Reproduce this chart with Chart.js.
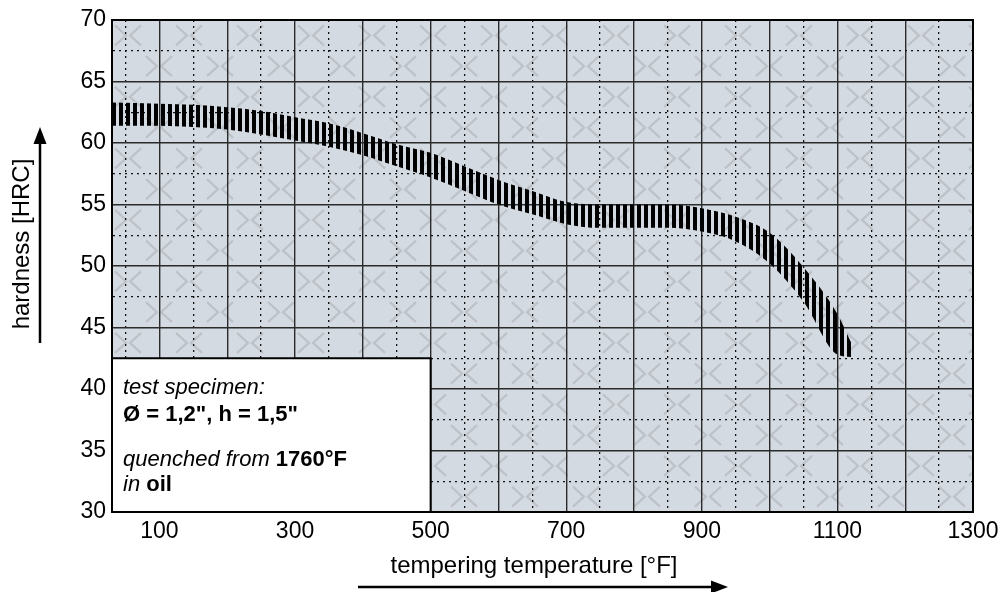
<!DOCTYPE html>
<html>
<head>
<meta charset="utf-8">
<script src="https://cdn.jsdelivr.net/npm/chart.js@4"></script>
<style>
  html, body { margin: 0; padding: 0; background: #fff; }
</style>
</head>
<body>
<canvas id="hardnessChart" width="1006" height="592"></canvas>
<script>
// tempering temperature [°F] and the upper / lower edge of the hardness band [HRC]
const temps    = [30,   100,  150,  200,  250,  300,  350,  400,  450,  500,  550,  600,  650,  700,  750,  800,  850,  900,  950,  1000, 1050, 1100, 1120];
const upperHRC = [63.3, 63.2, 63.1, 62.9, 62.6, 62.1, 61.6, 60.8, 59.9, 59.2, 58.1, 57.0, 56.1, 55.2, 55.0, 55.0, 55.0, 54.7, 54.0, 52.7, 49.9, 46.1, 43.8];
const lowerHRC = [61.4, 61.4, 61.3, 61.1, 60.7, 60.2, 59.7, 59.0, 58.1, 57.2, 56.1, 55.0, 54.2, 53.4, 53.1, 53.1, 53.1, 52.8, 52.0, 50.2, 47.1, 42.8, 42.6];

const xTickLabels = [100, 300, 500, 700, 900, 1100, 1300];
const yTickLabels = [30, 35, 40, 45, 50, 55, 60, 65, 70];

const FONT = '"Liberation Sans", Arial, Helvetica, sans-serif';

function stripePattern() {
    const c = document.createElement('canvas');
    c.width = 7; c.height = 8;
    const g = c.getContext('2d');
    g.fillStyle = '#000';
    g.fillRect(0, 0, 4, 8);
    return g.createPattern(c, 'repeat');
}

function arrow(ctx, x1, y1, x2, y2) {
    const a = Math.atan2(y2 - y1, x2 - x1);
    const len = 17, half = 6.5;
    ctx.beginPath();
    ctx.moveTo(x1, y1);
    ctx.lineTo(x2 - Math.cos(a) * len, y2 - Math.sin(a) * len);
    ctx.lineWidth = 2.5;
    ctx.strokeStyle = '#000';
    ctx.stroke();
    ctx.beginPath();
    ctx.moveTo(x2, y2);
    ctx.lineTo(x2 - Math.cos(a) * len - Math.sin(a) * half, y2 - Math.sin(a) * len + Math.cos(a) * half);
    ctx.lineTo(x2 - Math.cos(a) * len + Math.sin(a) * half, y2 - Math.sin(a) * len - Math.cos(a) * half);
    ctx.closePath();
    ctx.fillStyle = '#000';
    ctx.fill();
}

function drawRuns(ctx, runs, x, y) {
    runs.forEach(([text, style]) => {
        ctx.font = style + ' 22px ' + FONT;
        ctx.fillText(text, x, y);
        x += ctx.measureText(text).width;
    });
}

const isMajorX = ctx => !ctx.tick || ctx.tick.value % 100 === 0;
const isMajorY = ctx => !ctx.tick || ctx.tick.value % 5 === 0;

const plotBackground = {
    id: 'plotBackground',
    beforeDraw(chart) {
        const { ctx, chartArea: a } = chart;
        ctx.save();
        ctx.fillStyle = '#d4dae1';
        ctx.fillRect(a.left, a.top, a.right - a.left, a.bottom - a.top);
        ctx.beginPath();
        ctx.rect(a.left, a.top, a.right - a.left, a.bottom - a.top);
        ctx.clip();
        // faint "><" watermark pattern
        ctx.strokeStyle = '#bdc2c8';
        ctx.lineWidth = 2.2;
        const rowH = (a.bottom - a.top) / 16;
        for (let r = 0; r < 16; r++) {
            const cy = a.top + rowH * (r + 0.5);
            for (let cx = a.left + (r % 2 ? -14 : 16); cx < a.right + 20; cx += 61) {
                ctx.beginPath();
                ctx.moveTo(cx - 13, cy - 10); ctx.lineTo(cx - 2, cy); ctx.lineTo(cx - 13, cy + 10);
                ctx.moveTo(cx + 13, cy - 10); ctx.lineTo(cx + 2, cy); ctx.lineTo(cx + 13, cy + 10);
                ctx.stroke();
            }
        }
        ctx.restore();
    },
    afterDraw(chart) {
        const { ctx, chartArea: a, scales } = chart;
        ctx.save();
        // frame
        ctx.strokeStyle = '#000';
        ctx.lineWidth = 2;
        ctx.strokeRect(a.left, a.top, a.right - a.left, a.bottom - a.top);

        // info box
        const bx1 = scales.x.getPixelForValue(30), bx2 = scales.x.getPixelForValue(500);
        const by1 = scales.y.getPixelForValue(42.5), by2 = scales.y.getPixelForValue(30);
        ctx.fillStyle = '#fff';
        ctx.fillRect(bx1, by1, bx2 - bx1, by2 - by1);
        ctx.strokeRect(bx1, by1, bx2 - bx1, by2 - by1);
        ctx.fillStyle = '#000';
        ctx.textBaseline = 'middle';
        ctx.textAlign = 'left';
        const tx = bx1 + 11;
        drawRuns(ctx, [['test specimen:', 'italic']], tx, by1 + 30);
        drawRuns(ctx, [['Ø = 1,2", h = 1,5"', 'bold']], tx, by1 + 57);
        drawRuns(ctx, [['quenched from ', 'italic'], ['1760°F', 'bold']], tx, by1 + 102);
        drawRuns(ctx, [['in ', 'italic'], ['oil', 'bold']], tx, by1 + 127);

        // axis titles with arrows
        ctx.font = '24px ' + FONT;
        ctx.textAlign = 'center';
        ctx.fillText('tempering temperature [°F]', 534, 566);
        arrow(ctx, 358, 587, 728, 587);

        ctx.save();
        ctx.translate(22, 244);
        ctx.rotate(-Math.PI / 2);
        ctx.fillText('hardness [HRC]', 0, 0);
        ctx.restore();
        arrow(ctx, 40, 343, 40, 127);
        ctx.restore();
    }
};

const stripes = stripePattern();

new Chart(document.getElementById('hardnessChart').getContext('2d'), {
    type: 'line',
    data: {
        datasets: [{
            label: 'upper',
            data: temps.map((t, i) => ({ x: t, y: upperHRC[i] })),
            borderWidth: 0,
            pointRadius: 0,
            cubicInterpolationMode: 'monotone',
            backgroundColor: stripes,
            fill: '+1'
        }, {
            label: 'lower',
            data: temps.map((t, i) => ({ x: t, y: lowerHRC[i] })),
            borderWidth: 0,
            pointRadius: 0,
            cubicInterpolationMode: 'monotone',
            fill: false
        }]
    },
    options: {
        responsive: false,
        animation: false,
        events: [],
        layout: { padding: { top: 20, right: 33, left: 0, bottom: 0 } },
        plugins: { legend: { display: false }, tooltip: { enabled: false } },
        scales: {
            x: {
                type: 'linear',
                min: 30,
                max: 1300,
                afterFit(s) { s.height = 80; },
                afterBuildTicks(s) {
                    const t = [];
                    for (let v = 50; v <= 1300; v += 50) t.push({ value: v });
                    s.ticks = t;
                },
                ticks: {
                    autoSkip: false,
                    maxRotation: 0,
                    padding: 6,
                    color: '#000',
                    font: { family: FONT, size: 23 },
                    callback: v => xTickLabels.includes(v) ? String(v) : ''
                },
                grid: {
                    drawTicks: false,
                    color: ctx => isMajorX(ctx) ? '#2b2b2b' : '#111',
                    lineWidth: ctx => isMajorX(ctx) ? 1.4 : 1.3,
                    borderDash: ctx => isMajorX(ctx) ? [] : [2, 4]
                },
                border: {
                    color: '#000',
                    width: 2,
                    dash: ctx => isMajorX(ctx) ? [] : [2, 4]
                }
            },
            y: {
                min: 30,
                max: 70,
                afterFit(s) { s.width = 112; },
                ticks: {
                    stepSize: 2.5,
                    padding: 6,
                    color: '#000',
                    font: { family: FONT, size: 23 },
                    callback: v => yTickLabels.includes(v) ? String(v) : ''
                },
                grid: {
                    drawTicks: false,
                    color: ctx => isMajorY(ctx) ? '#2b2b2b' : '#111',
                    lineWidth: ctx => isMajorY(ctx) ? 1.4 : 1.3,
                    borderDash: ctx => isMajorY(ctx) ? [] : [2, 4]
                },
                border: {
                    color: '#000',
                    width: 2,
                    dash: ctx => isMajorY(ctx) ? [] : [2, 4]
                }
            }
        }
    },
    plugins: [plotBackground]
});
</script>
</body>
</html>
